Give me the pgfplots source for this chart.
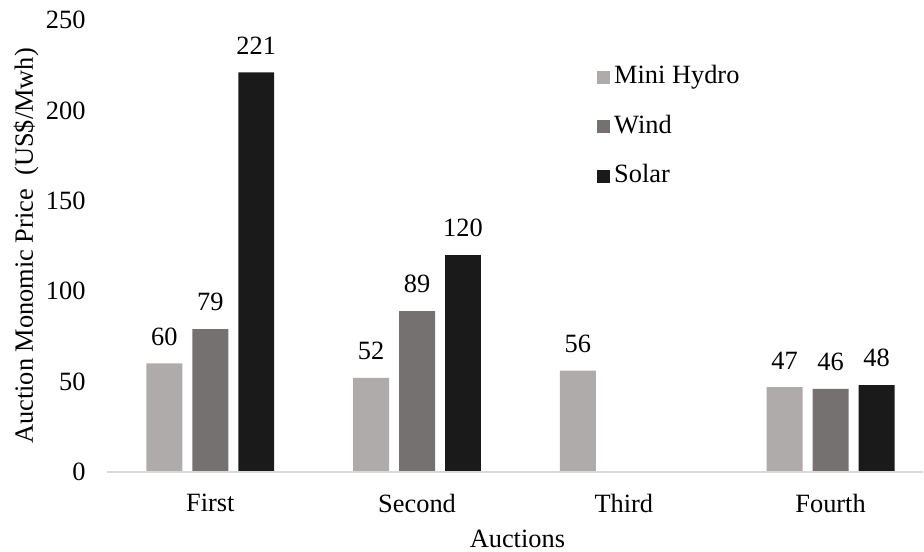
\documentclass[border=0pt]{standalone}
\usepackage{pgfplots}
\pgfplotsset{compat=1.18}
\usepackage{fontspec}
\setmainfont{Liberation Serif}

\definecolor{hydro}{HTML}{AFABAB}
\definecolor{wind}{HTML}{767171}
\definecolor{solar}{HTML}{1A1A1A}
\definecolor{axisgray}{HTML}{D9D9D9}

\begin{document}
\fontsize{13.2}{16}\selectfont
\begin{tikzpicture}
\begin{axis}[
  scale only axis,
  width=408.5pt, height=226.25pt,
  clip=false,
  ybar=5pt, bar width=18pt,
  xmin=-0.5, xmax=3.447,
  ymin=0, ymax=250,
  ytick={0,50,...,250},
  xtick={0,1,2,3},
  xticklabels={First,Second,Third,Fourth},
  major tick length=0pt,
  axis line style={draw=none},
  tick style={draw=none},
  /pgf/number format/assume math mode=true,
  tick label style={font=\fontsize{13.2}{16}\selectfont},
  yticklabel style={inner sep=0pt, xshift=-10.5pt},
  xticklabel style={inner sep=0pt, yshift=-11pt},
  xlabel={Auctions},
  xlabel style={at={(axis description cs:0.503,-0.168)}, anchor=base, inner sep=0pt},
  ylabel={Auction Monomic Price\ \ (US\$/Mwh)},
  ylabel style={at={(axis description cs:-0.099,0.5)}, anchor=center, inner sep=0pt},
  label style={font=\fontsize{13.2}{16}\selectfont},
  nodes near coords,
  nodes near coords style={font=\fontsize{13.2}{16}\selectfont, inner sep=0pt, yshift=8.8pt, anchor=south},
  legend image code/.code={\fill[#1] (0pt,-3.25pt) rectangle (6.5pt,3.25pt);},
  legend style={at={(axis description cs:0.5998,0.903)}, anchor=north west,
    draw=none, fill=none, inner sep=0pt, row sep=11.5pt,
    font=\fontsize{13.2}{16}\selectfont,
    nodes={inner sep=0pt, text height=0.75em, text depth=0.25em, anchor=west}},
  legend cell align=left,
]
% Mini hydro, wind and solar prices per auction round
\addplot[fill=hydro, draw=none] coordinates {(0,60) (1,52) (2,56) (3,47)};
\addplot[fill=wind, draw=none] coordinates {(0,79) (1,89) (3,46)};
\addplot[fill=solar, draw=none] coordinates {(0,221) (1,120) (3,48)};
\legend{\,Mini Hydro,\,Wind,\,Solar}
% category baseline
\draw[draw=axisgray, line width=1pt] (axis description cs:0,0) -- (axis description cs:1,0);
% page extent around the plot area
\path (axis description cs:-0.131,-0.1757) rectangle (axis description cs:1,1.0442);
\end{axis}
\end{tikzpicture}
\end{document}
